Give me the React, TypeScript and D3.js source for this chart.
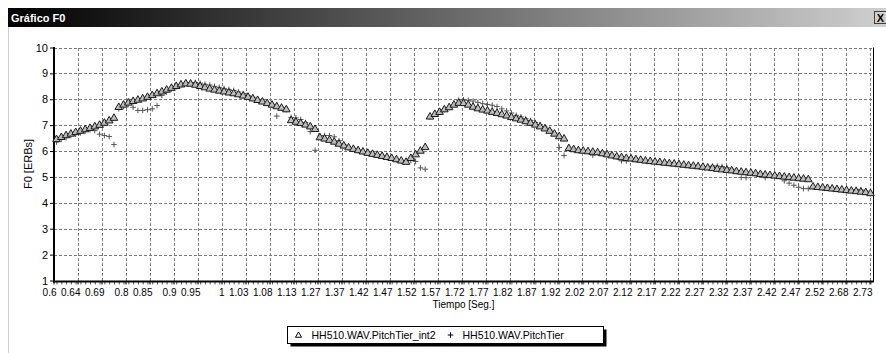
import * as d3 from 'd3';
import { useEffect, useRef } from 'react';

// x labels (one per gridline, every 5th sample)
const timeLabels = [
  '0.6', '0.64', '0.69', '0.8', '0.85', '0.9', '0.95', '1', '1.03', '1.08', '1.13', '1.27',
  '1.37', '1.42', '1.47', '1.52', '1.57', '1.72', '1.77', '1.82', '1.87', '1.92', '2.02',
  '2.07', '2.12', '2.17', '2.22', '2.27', '2.32', '2.37', '2.42', '2.47', '2.52', '2.68', '2.73',
];

const yTicks = [1, 2, 3, 4, 5, 6, 7, 8, 9, 10];

const seriesNames = ['HH510.WAV.PitchTier_int2', 'HH510.WAV.PitchTier'];

// F0 in ERBs, one value per sample (triangles)
const f0Int2 = [
  6.45, 6.53, 6.6, 6.66, 6.72, 6.77, 6.83, 6.88, 6.94, 7.0, 7.08, 7.17, 7.27,
  7.69, 7.78, 7.86, 7.92, 7.97, 8.02, 8.08, 8.15, 8.22, 8.29, 8.36, 8.43, 8.5, 8.56, 8.6,
  8.59, 8.55, 8.5, 8.45, 8.4, 8.36, 8.32, 8.29, 8.25, 8.22, 8.18, 8.13, 8.08, 8.02, 7.96,
  7.9, 7.84, 7.78, 7.72, 7.66, 7.6,
  7.18, 7.12, 7.07, 7.01, 6.94, 6.84,
  6.52, 6.47, 6.42, 6.35, 6.27, 6.2, 6.13, 6.07, 6.02, 5.97, 5.92, 5.88, 5.84, 5.8, 5.76,
  5.72, 5.67, 5.62, 5.57,
  5.72, 5.86, 6.0, 6.14,
  7.32, 7.42, 7.5, 7.6, 7.68, 7.78, 7.85, 7.84, 7.78, 7.7, 7.64, 7.59, 7.55, 7.5, 7.46,
  7.41, 7.36, 7.3, 7.25, 7.2, 7.14, 7.08, 7.01, 6.94, 6.86, 6.77, 6.66, 6.56, 6.47,
  6.1, 6.06, 6.02, 6.0, 5.98, 5.96, 5.94, 5.9, 5.86, 5.82, 5.78, 5.75, 5.72, 5.7, 5.67,
  5.65, 5.62, 5.6, 5.58, 5.56, 5.54, 5.52, 5.5, 5.48, 5.46, 5.44, 5.42, 5.4, 5.38, 5.35,
  5.33, 5.3, 5.28, 5.26, 5.24, 5.21, 5.19, 5.17, 5.15, 5.13, 5.1, 5.08, 5.06, 5.04, 5.02,
  5.0, 4.98, 4.96, 4.94, 4.92, 4.9,
  4.62, 4.6, 4.58, 4.56, 4.54, 4.52, 4.5, 4.48, 4.46, 4.44, 4.42, 4.4, 4.36,
];

// F0 in ERBs, raw pitch tier (pluses)
const f0Raw = [
  6.35, 6.45, 6.52, 6.6, 6.65, 6.7, 6.76, 6.82, 6.79, 6.65, 6.6, 6.56, 6.25,
  7.63, 7.72, 7.8, 7.69, 7.57, 7.57, 7.6, 7.63, 7.76, 8.15, 8.28, 8.4, 8.48, 8.56, 8.62,
  8.65, 8.65, 8.62, 8.58, 8.55, 8.5, 8.46, 8.42, 8.38, 8.34, 8.28, 8.22, 8.15, 8.08, 8.0,
  7.93, 7.86, 7.78, 7.35, 7.66, 7.6,
  7.3, 7.28, 7.22, 7.1, 6.75, 6.03,
  6.58, 6.6, 6.6, 6.55, 6.4, 6.25, 6.13, 6.07, 6.02, 5.97, 5.92, 5.88, 5.84, 5.8, 5.76,
  5.72, 5.67, 5.62, 5.62,
  5.63, 5.6, 5.35, 5.3,
  7.32, 7.42, 7.5, 7.6, 7.68, 7.8, 7.97, 7.98, 7.96, 7.93, 7.88, 7.83, 7.8, 7.77, 7.72,
  7.63, 7.55, 7.47, 7.38, 7.32, 7.25, 7.18, 7.1, 7.02, 6.93, 6.82, 6.7, 6.14, 5.83,
  6.1, 6.06, 6.02, 6.0, 5.98, 5.84, 5.94, 5.9, 5.86, 5.82, 5.78, 5.62, 5.62, 5.7, 5.67,
  5.65, 5.62, 5.6, 5.58, 5.56, 5.54, 5.52, 5.5, 5.48, 5.46, 5.44, 5.42, 5.4, 5.38, 5.4,
  5.42, 5.42, 5.4, 5.36, 5.3, 5.21, 4.98, 4.97, 5.15, 5.13, 5.1, 4.97, 5.06, 5.04, 5.02,
  4.85, 4.76, 4.68, 4.6, 4.55, 4.55,
  4.62, 4.6, 4.58, 4.56, 4.54, 4.52, 4.5, 4.48, 4.5, 4.52, 4.5, 4.46, 4.36,
];

export default function App() {
  const chartRef = useRef<HTMLDivElement>(null);

  useEffect(() => {
    const width = 886;
    const height = 353;
    const plotLeft = 54;
    const plotRight = 873;
    const plotTop = 47.5;
    const plotBottom = 280.5;

    const root = d3.select(chartRef.current);
    root.selectAll('*').remove();

    const svg = root.append('svg')
      .attr('width', width)
      .attr('height', height)
      .style('display', 'block')
      .style('font-family', 'Arial, "Liberation Sans", sans-serif');

    svg.append('rect').attr('width', width).attr('height', height).attr('fill', '#fff');

    // window title bar
    const grad = svg.append('defs').append('linearGradient')
      .attr('id', 'titleGrad').attr('x1', '0%').attr('x2', '100%');
    grad.append('stop').attr('offset', '0%').attr('stop-color', '#000');
    grad.append('stop').attr('offset', '100%').attr('stop-color', '#cfcfcf');

    svg.append('rect')
      .attr('x', 8).attr('y', 8).attr('width', width - 8).attr('height', 19)
      .attr('fill', 'url(#titleGrad)');
    svg.append('text')
      .attr('x', 11).attr('y', 21.5)
      .attr('fill', '#fff').attr('font-weight', 'bold').attr('font-size', 11)
      .text('Gráfico F0');

    // close button
    svg.append('rect')
      .attr('x', 874.5).attr('y', 11.5).attr('width', 12).attr('height', 12)
      .attr('fill', '#d4d0c8').attr('stroke', '#404040');
    svg.append('text')
      .attr('x', 880.5).attr('y', 21.5).attr('text-anchor', 'middle')
      .attr('font-size', 11).attr('font-weight', 'bold').text('X');

    svg.append('line')
      .attr('x1', 8.5).attr('x2', 8.5).attr('y1', 27).attr('y2', height)
      .attr('stroke', '#cfcfcf');

    const x = d3.scaleLinear().domain([0, f0Int2.length - 1]).range([56.5, 870.5]);
    const xGrid = d3.scalePoint().domain(timeLabels).range([53.5, 869.5]);
    const y = d3.scaleLinear().domain([1, 10]).range([plotBottom, plotTop]);

    // grid
    const grid = svg.append('g')
      .attr('stroke', '#7a7a7a')
      .attr('stroke-dasharray', '3,2')
      .attr('shape-rendering', 'crispEdges');
    grid.selectAll('line.h').data(yTicks.slice(1)).join('line')
      .attr('class', 'h')
      .attr('x1', plotLeft).attr('x2', plotRight)
      .attr('y1', d => Math.round(y(d)) + 0.5).attr('y2', d => Math.round(y(d)) + 0.5);
    grid.selectAll('line.v').data(timeLabels.slice(1)).join('line')
      .attr('class', 'v')
      .attr('x1', d => Math.round(xGrid(d)!) + 0.5).attr('x2', d => Math.round(xGrid(d)!) + 0.5)
      .attr('y1', plotTop).attr('y2', plotBottom);

    // right border
    svg.append('line')
      .attr('x1', plotRight + 0.5).attr('x2', plotRight + 0.5)
      .attr('y1', plotTop).attr('y2', plotBottom + 1)
      .attr('stroke', '#000');

    // y axis
    const yAxis = svg.append('g')
      .attr('transform', `translate(${plotLeft - 1},0)`)
      .call(d3.axisLeft(y).tickValues(yTicks).tickFormat(d3.format('d')).tickSize(3).tickPadding(2));
    yAxis.select('.domain').remove();
    yAxis.selectAll('text').attr('font-size', 11).attr('font-family', null).attr('fill', '#000');

    // x axis: minor ticks for every sample
    const xMinor = svg.append('g')
      .attr('transform', `translate(0,${plotBottom + 1})`)
      .call(d3.axisBottom(x).tickValues(d3.range(f0Int2.length)).tickSize(3).tickFormat(() => ''));
    xMinor.select('.domain').remove();
    xMinor.selectAll('line').attr('stroke', '#555');

    const xAxis = svg.append('g')
      .attr('transform', `translate(0,${plotBottom + 1})`)
      .call(d3.axisBottom(xGrid).tickSize(3).tickPadding(4));
    xAxis.select('.domain').remove();
    xAxis.selectAll('text')
      .attr('font-size', 10).attr('font-family', null).attr('fill', '#000')
      .attr('text-anchor', 'end').attr('dx', 2.5);

    // axis lines
    svg.append('line')
      .attr('x1', plotLeft).attr('x2', plotLeft).attr('y1', plotTop - 0.5).attr('y2', plotBottom + 2)
      .attr('stroke', '#000').attr('stroke-width', 2);
    svg.append('line')
      .attr('x1', plotLeft - 1).attr('x2', plotRight + 1).attr('y1', plotBottom + 1).attr('y2', plotBottom + 1)
      .attr('stroke', '#000').attr('stroke-width', 2);

    // axis titles
    svg.append('text')
      .attr('x', (plotLeft + plotRight) / 2).attr('y', 307.5)
      .attr('text-anchor', 'middle').attr('font-size', 10)
      .text('Tiempo [Seg.]');
    svg.append('text')
      .attr('transform', `translate(32,${(plotTop + plotBottom) / 2}) rotate(-90)`)
      .attr('text-anchor', 'middle').attr('font-size', 11)
      .text('F0 [ERBs]');

    // series
    const plus = d3.symbol(d3.symbolPlus, 12);
    const tri = d3.symbol(d3.symbolTriangle, 25);

    svg.append('g')
      .attr('fill', 'none').attr('stroke', '#555').attr('stroke-width', 1)
      .selectAll('path').data(f0Raw).join('path')
      .attr('transform', (d, i) => `translate(${x(i)},${y(d)})`)
      .attr('d', plus);

    svg.append('g')
      .attr('fill', '#bcbcbc').attr('stroke', '#1a1a1a').attr('stroke-width', 1)
      .selectAll('path').data(f0Int2).join('path')
      .attr('transform', (d, i) => `translate(${x(i)},${y(d)})`)
      .attr('d', tri);

    // legend
    const lg = svg.append('g').attr('transform', 'translate(287.5,326.5)');
    lg.append('rect').attr('x', 3).attr('y', 3).attr('width', 316).attr('height', 17).attr('fill', '#000');
    lg.append('rect').attr('width', 316).attr('height', 17).attr('fill', '#fff').attr('stroke', '#000');
    lg.append('path')
      .attr('transform', 'translate(11,9)')
      .attr('d', d3.symbol(d3.symbolTriangle, 16)())
      .attr('fill', '#fff').attr('stroke', '#000');
    lg.append('text').attr('x', 24).attr('y', 12.5).attr('font-size', 10.5).text(seriesNames[0]);
    lg.append('path')
      .attr('transform', 'translate(163,8.5)')
      .attr('d', d3.symbol(d3.symbolPlus, 12)())
      .attr('fill', 'none').attr('stroke', '#000');
    lg.append('text').attr('x', 175).attr('y', 12.5).attr('font-size', 10.5).text(seriesNames[1]);
  }, []);

  return (
    <div style={{ position: 'absolute', left: 0, top: 0 }}>
      <div ref={chartRef}></div>
    </div>
  );
}
